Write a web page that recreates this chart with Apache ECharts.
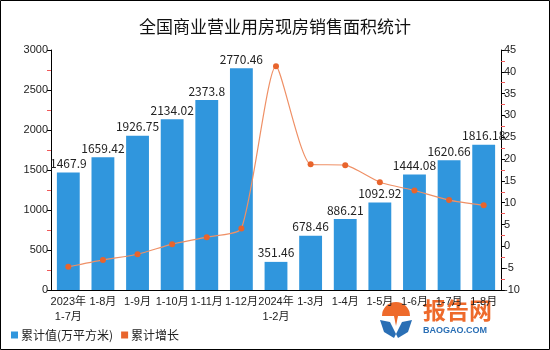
<!DOCTYPE html>
<html>
<head>
<meta charset="utf-8">
<script src="https://cdn.jsdelivr.net/npm/echarts@6/dist/echarts.min.js"></script>
<style>
  html, body { margin: 0; padding: 0; background: #fff; }
  #chart { width: 550px; height: 350px; }
</style>
</head>
<body>
<div id="chart"></div>
<script>
// Periods (cumulative from January)
const categories = ['2023年\n1-7月', '1-8月', '1-9月', '1-10月', '1-11月', '1-12月',
  '2024年\n1-2月', '1-3月', '1-4月', '1-5月', '1-6月', '1-7月', '1-8月'];

// Cumulative sales area (10k m²)
const areaValues = [1467.9, 1659.42, 1926.75, 2134.02, 2373.8, 2770.46,
  351.46, 678.46, 886.21, 1092.92, 1444.08, 1620.66, 1816.18];

// Cumulative growth (%)
const growthValues = [-4.7, -3.1, -1.8, 0.5, 2.1, 4.1,
  41.3, 18.8, 18.6, 14.7, 12.8, 10.6, 9.4];

const leftTicks = { min: 0, max: 3000, interval: 500 };
const rightTicks = { min: -10, max: 45, interval: 5 };

const chart = echarts.init(document.getElementById('chart'), null, { renderer: 'canvas' });

const fontFamily = '"Noto Sans CJK SC", "Liberation Sans", sans-serif';
const axisFont = '"Liberation Sans", "Noto Sans CJK SC", sans-serif';

const axisCommon = {
  axisLine: { show: true, lineStyle: { color: '#000', width: 1 } },
  axisTick: { show: true, length: 4, lineStyle: { color: '#000' } },
  minorTick: { show: true, splitNumber: 2, length: 4, lineStyle: { color: '#f05a5a' } },
  splitLine: { show: false },
  axisLabel: { color: '#222', fontSize: 11, fontFamily: axisFont, margin: 3, formatter: v => String(v) }
};

chart.setOption({
  backgroundColor: '#fff',
  animation: false,
  textStyle: { fontFamily: fontFamily },
  title: {
    text: '全国商业营业用房现房销售面积统计',
    left: 'center',
    top: 13,
    textStyle: { fontSize: 17, fontWeight: 'normal', color: '#111', fontFamily: fontFamily }
  },
  legend: {
    left: 6,
    top: 324,
    itemWidth: 7,
    itemHeight: 7,
    itemGap: 8,
    icon: 'rect',
    textStyle: { fontSize: 12, color: '#222', fontFamily: fontFamily, padding: [0, 0, 0, -2] },
    data: ['累计值(万平方米)', '累计增长']
  },
  grid: { left: 51, right: 49, top: 50, bottom: 60 },
  xAxis: {
    type: 'category',
    data: categories,
    axisLine: { lineStyle: { color: '#000' } },
    axisTick: { show: false },
    axisLabel: { color: '#222', fontSize: 11, fontFamily: axisFont, interval: 0, margin: 4, lineHeight: 15 }
  },
  yAxis: [
    Object.assign({ type: 'value', position: 'left' }, leftTicks, axisCommon),
    Object.assign({ type: 'value', position: 'right' }, rightTicks, axisCommon)
  ],
  series: [
    {
      name: '累计值(万平方米)',
      type: 'bar',
      data: areaValues,
      barWidth: '66%',
      itemStyle: { color: '#3096dd' },
      label: {
        show: true,
        position: 'top',
        distance: 3,
        color: '#222',
        fontSize: 12,
        fontFamily: fontFamily
      }
    },
    {
      name: '累计增长',
      type: 'line',
      yAxisIndex: 1,
      data: growthValues,
      smooth: 0.2,
      symbol: 'circle',
      symbolSize: 6,
      lineStyle: { color: '#ef9066', width: 1.2 },
      itemStyle: { color: '#e8642c' }
    }
  ],
  graphic: [
    {
      type: 'rect',
      shape: { x: 0.5, y: 0.5, width: 549, height: 349 },
      style: { fill: 'none', stroke: '#000', lineWidth: 1 },
      z: 100
    },
    // brand mark: orange canopy above a blue V
    {
      type: 'group',
      left: 380,
      top: 302,
      children: [
        {
          type: 'sector',
          shape: { cx: 18, cy: 12, r0: 0, r: 14, startAngle: Math.PI, endAngle: 2 * Math.PI },
          style: { fill: '#ee6a2b' }
        },
        {
          type: 'polygon',
          shape: { points: [[16, 12], [20, 12], [18, 22]] },
          style: { fill: '#ee6a2b' }
        },
        {
          type: 'polygon',
          shape: { points: [[2, 16], [12, 18], [18, 30], [16, 34], [6, 28]] },
          style: { fill: '#2a6fb5' }
        },
        {
          type: 'polygon',
          shape: { points: [[34, 16], [24, 18], [18, 30], [20, 34], [30, 28]] },
          style: { fill: '#2a6fb5' }
        }
      ]
    },
    {
      type: 'text',
      left: 423,
      top: 299,
      style: { text: '报告网', fill: '#ee6a2b', font: 'bold 23px "Noto Sans CJK SC", sans-serif' }
    },
    {
      type: 'text',
      left: 423,
      top: 326,
      style: { text: 'BAOGAO.COM', fill: '#2a6fb5', font: 'bold 9px "Liberation Sans", sans-serif' }
    }
  ]
});
</script>
</body>
</html>
